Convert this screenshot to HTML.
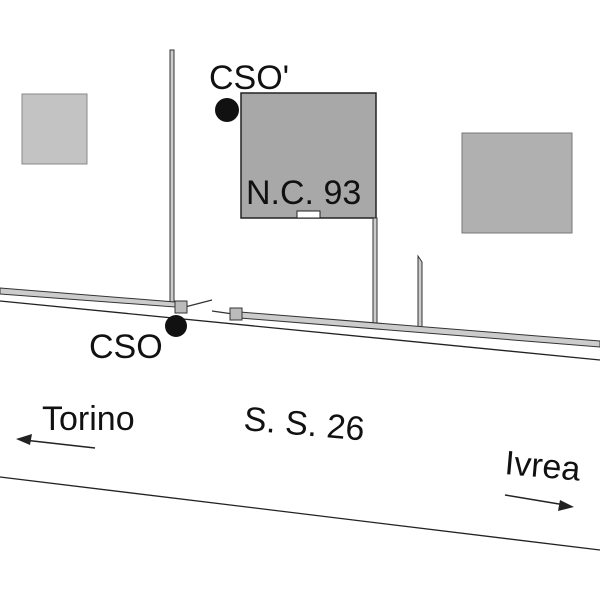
<!DOCTYPE html>
<html><head><meta charset="utf-8"><style>
body{margin:0;background:#fff}
svg text{font-family:"Liberation Sans",sans-serif;fill:#111}
</style></head><body>
<svg width="600" height="600" viewBox="0 0 600 600" xmlns="http://www.w3.org/2000/svg">
<rect x="22" y="94" width="65" height="70" fill="#c3c3c3" stroke="#888" stroke-width="1"/>
<rect x="462" y="133" width="110" height="100" fill="#b0b0b0" stroke="#777" stroke-width="1"/>
<rect x="241" y="93" width="135" height="125" fill="#a8a8a8" stroke="#222" stroke-width="1.5"/>
<rect x="297" y="211" width="23" height="7" fill="#fff" stroke="#222" stroke-width="1"/>
<rect x="170" y="50" width="4" height="255" fill="#ccc" stroke="#333" stroke-width="1"/>
<rect x="373" y="218" width="4" height="107" fill="#ccc" stroke="#333" stroke-width="1"/>
<polygon points="418,330 418,256 422,262 422,330" fill="#ccc" stroke="#333" stroke-width="1"/>
<polygon points="0,288 175,302 175,307 0,294" fill="#ccc" stroke="#333" stroke-width="1"/>
<polygon points="240,312 600,341 600,347 240,318" fill="#ccc" stroke="#333" stroke-width="1"/>
<line x1="185" y1="307" x2="212" y2="300" stroke="#333" stroke-width="1.2"/>
<line x1="212" y1="311" x2="240" y2="315" stroke="#333" stroke-width="1.2"/>
<line x1="0" y1="301" x2="600" y2="360" stroke="#222" stroke-width="1.3"/>
<line x1="0" y1="477" x2="600" y2="550" stroke="#222" stroke-width="1.3"/>
<rect x="175" y="301" width="12" height="12" fill="#bbb" stroke="#333" stroke-width="1"/>
<rect x="230" y="308" width="12" height="12" fill="#bbb" stroke="#333" stroke-width="1"/>
<circle cx="176" cy="326" r="11" fill="#111"/>
<circle cx="227" cy="110" r="12" fill="#111"/>
<text x="209" y="89" font-size="34">CSO'</text>
<text x="246" y="204" font-size="34">N.C. 93</text>
<text x="89" y="358" font-size="34">CSO</text>
<text x="42" y="430" font-size="34">Torino</text>
<text x="243" y="430" font-size="34" transform="rotate(5 243 430)">S. S. 26</text>
<text x="504" y="474" font-size="34" transform="rotate(5 504 474)">Ivrea</text>
<line x1="95" y1="448" x2="24" y2="440" stroke="#222" stroke-width="1.5"/>
<polygon points="16,439 32,434 30,445" fill="#222"/>
<line x1="505" y1="495" x2="565" y2="505" stroke="#222" stroke-width="1.5"/>
<polygon points="574,507 558,511 560,500" fill="#222"/>
</svg>
</body></html>
